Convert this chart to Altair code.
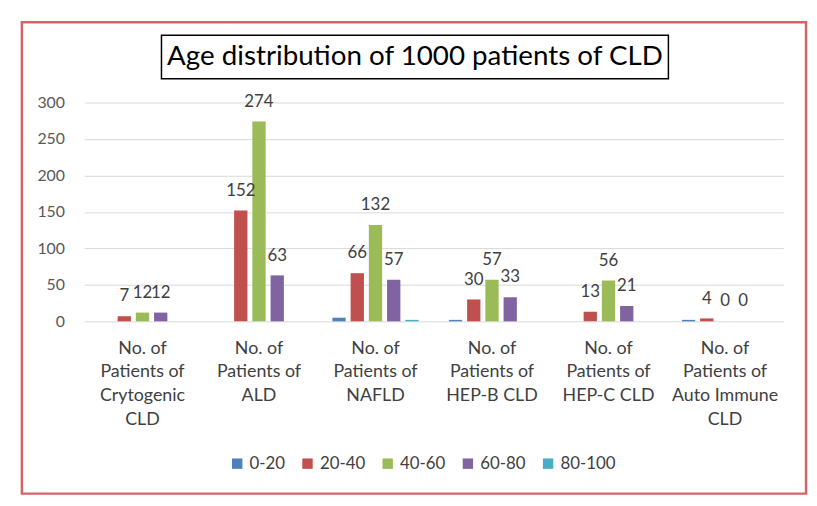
import altair as alt
import pandas as pd

categories = [
    "No. of|Patients of|Crytogenic|CLD",
    "No. of|Patients of|ALD",
    "No. of|Patients of|NAFLD",
    "No. of|Patients of|HEP-B CLD",
    "No. of|Patients of|HEP-C CLD",
    "No. of|Patients of|Auto Immune|CLD",
]
series = ["0-20", "20-40", "40-60", "60-80", "80-100"]
colors = ["#4f81bd", "#c0504d", "#9bbb59", "#8064a2", "#4bacc6"]
y_ticks = [0, 50, 100, 150, 200, 250, 300]

v_0_20 = [0, 0, 5, 2, 0, 2]
v_20_40 = [7, 152, 66, 30, 13, 4]
v_40_60 = [12, 274, 132, 57, 56, 0]
v_60_80 = [12, 63, 57, 33, 21, 0]
v_80_100 = [0, 0, 2, 0, 0, 0]
labelled = ["20-40", "40-60", "60-80"]

rows = []
for s, vals in zip(series, [v_0_20, v_20_40, v_40_60, v_60_80, v_80_100]):
    for c, v in zip(categories, vals):
        rows.append({"cat": c, "age": s, "n": v})
df = pd.DataFrame(rows)

FONT = "Lato"

x_enc = alt.X("cat:N", sort=categories, title=None,
              scale=alt.Scale(paddingInner=0.26, paddingOuter=0.13),
              axis=alt.Axis(labelExpr="split(datum.label, '|')", labelAngle=0,
                            labelFontSize=18, labelColor="#404040", labelFont=FONT,
                            labelLineHeight=24, labelPadding=18, ticks=False,
                            domain=False, labelBaseline="top"))
y_enc = alt.Y("n:Q", title=None,
              scale=alt.Scale(domain=[0, 300], nice=False),
              axis=alt.Axis(values=y_ticks, tickCount=7, labelFontSize=16,
                            labelColor="#595959", labelFont=FONT, labelPadding=20,
                            labelOverlap=False, ticks=False, domain=False,
                            gridColor="#d9d9d9", grid=True))
off_enc = alt.XOffset("age:N", sort=series, scale=alt.Scale(paddingInner=0.27, paddingOuter=0))

bars = alt.Chart(df).mark_bar().encode(
    x=x_enc, y=y_enc, xOffset=off_enc,
    color=alt.Color("age:N", sort=series,
                    scale=alt.Scale(domain=series, range=colors),
                    legend=alt.Legend(title=None, orient="none", direction="horizontal",
                                      legendX=146, legendY=356, symbolType="square",
                                      symbolSize=110, symbolStrokeWidth=0,
                                      labelFontSize=17, labelFont=FONT,
                                      labelColor="#404040", labelOffset=4,
                                      columnPadding=14)),
)

labels = alt.Chart(df).transform_filter(
    alt.FieldOneOfPredicate(field="age", oneOf=labelled)
).mark_text(baseline="middle", dy=-20, fontSize=17, font=FONT, color="#404040").encode(
    x=x_enc, xOffset=off_enc, y=y_enc, text="n:Q",
)

deco = pd.DataFrame({"t": ["Age distribution of 1000 patients of CLD"]})
frame = alt.Chart(deco).mark_rect(fill=None, stroke="#cc4a4c", strokeWidth=2.5, strokeOpacity=0.85).encode(
    x=alt.value(-63), x2=alt.value(729), y=alt.value(-81), y2=alt.value(395))
tbox = alt.Chart(deco).mark_rect(fill="white", stroke="black", strokeWidth=1.5).encode(
    x=alt.value(78), x2=alt.value(590), y=alt.value(-68), y2=alt.value(-24))
ttext = alt.Chart(deco).mark_text(fontSize=28, font=FONT, color="black",
                                  baseline="middle", align="center").encode(
    x=alt.value(334), y=alt.value(-46), text="t:N")

chart = alt.layer(bars, labels, frame, tbox, ttext).properties(
    width=706, height=221,
    autosize=alt.AutoSizeParams(type="none"),
    padding={"left": 77, "top": 93, "right": 26, "bottom": 180},
    background="white",
).configure_view(stroke=None)

chart.save("out.html", embed_options={"renderer": "svg", "actions": False})
